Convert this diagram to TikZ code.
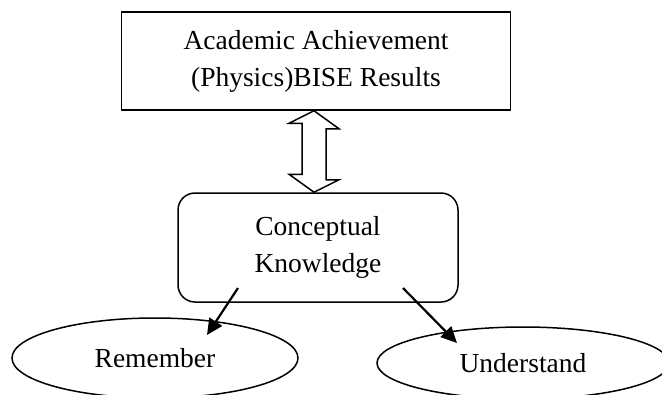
\documentclass[tikz,border=0pt]{standalone}
\usepackage{fontspec}
\setmainfont{Liberation Serif}
\usetikzlibrary{shapes.geometric,arrows.meta,calc}
\begin{document}
\begin{tikzpicture}[x=1pt,y=-1pt,
  every node/.style={font=\fontsize{27.5}{37}\selectfont, align=center, inner sep=0pt},
  box/.style={draw, line width=1.5pt, minimum width=389pt, minimum height=98pt},
  rbox/.style={draw, line width=1.5pt, rounded corners=17pt, minimum width=280pt, minimum height=109pt},
  oval/.style={draw, ellipse, line width=1.5pt},
  link/.style={line width=2.2pt, -{Triangle[length=16pt,width=15pt]}},
  dbl/.style={draw, line width=1.5pt, line join=miter}]
\useasboundingbox (0,0) rectangle (662,394);
\node[box] (top) at (316,61) {Academic Achievement\\(Physics)BISE Results};
\node[rbox] (mid) at (318,247.5) {Conceptual\\Knowledge};
\node[oval, minimum width=286pt, minimum height=80pt] (rem) at (155,358) {Remember};
\node[oval, minimum width=292pt, minimum height=72pt] (und) at (523,363) {Understand};
% double arrow between top and mid
\draw[dbl] ([xshift=-2pt]top.south) -- ++(25,18) -- ++(-13,0) -- ++(0,51) -- ++(13,0)
  -- ([xshift=-4pt]mid.north) -- ++(-25,-18) -- ++(13,0) -- ++(0,-51) -- ++(-13,0) -- cycle;
\coordinate (s1) at (238,288);
\coordinate (e1) at (207,335);
\coordinate (s2) at (403,288);
\coordinate (e2) at (457,343);
\draw[link] (s1) -- (e1);
\draw[link] (s2) -- (e2);
\end{tikzpicture}
\end{document}
